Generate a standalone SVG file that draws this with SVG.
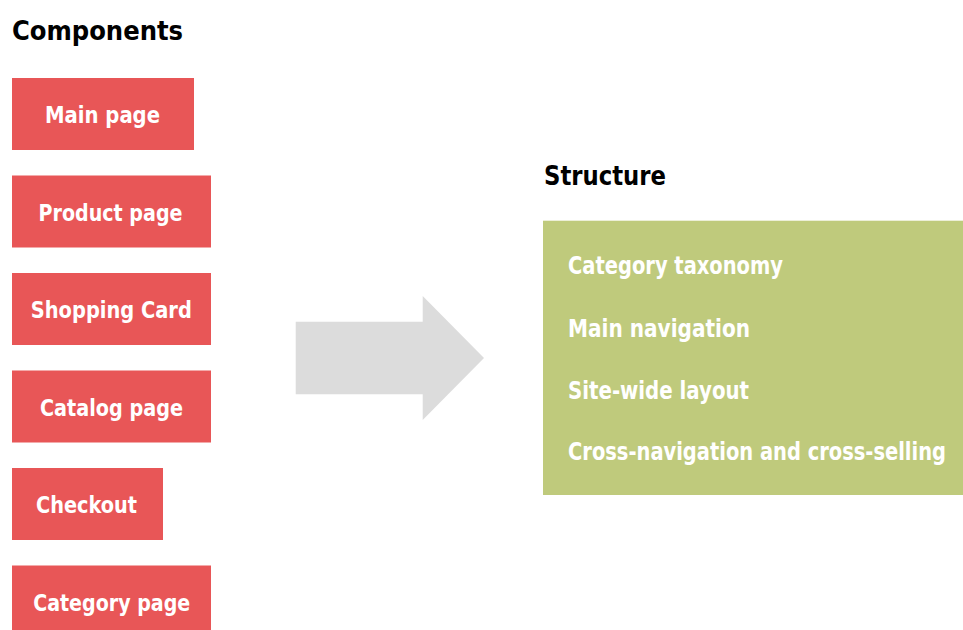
<svg xmlns="http://www.w3.org/2000/svg" width="963" height="630" viewBox="0 0 963 630">
<style>
text{font-family:"DejaVu Sans Condensed","Liberation Sans Narrow","DejaVu Sans",sans-serif;font-weight:bold;font-stretch:condensed}
.title{font-size:27px;fill:#000}
.comp{fill:#E85657}
.ct{font-size:23px;fill:#fff;text-anchor:middle}
.st{font-size:24px;fill:#fff}
</style>
<rect width="963" height="630" fill="#fff"/>
<text id="components-title" class="title" x="12" y="40" textLength="171" lengthAdjust="spacingAndGlyphs">Components</text>
<g id="main-page"><rect class="comp" x="12" y="78" width="182" height="72"/><text class="ct" x="102.5" y="123" textLength="115" lengthAdjust="spacingAndGlyphs">Main page</text></g>
<g id="product-page"><rect class="comp" x="12" y="175.5" width="199" height="72"/><text class="ct" x="110.5" y="220.5" textLength="144" lengthAdjust="spacingAndGlyphs">Product page</text></g>
<g id="shopping-card"><rect class="comp" x="12" y="273" width="199" height="72"/><text class="ct" x="111.3" y="318" textLength="161" lengthAdjust="spacingAndGlyphs">Shopping Card</text></g>
<g id="catalog-page"><rect class="comp" x="12" y="370.5" width="199" height="72"/><text class="ct" x="111.5" y="415.5" textLength="143" lengthAdjust="spacingAndGlyphs">Catalog page</text></g>
<g id="checkout"><rect class="comp" x="12" y="468" width="151" height="72"/><text class="ct" x="86.5" y="513" textLength="101" lengthAdjust="spacingAndGlyphs">Checkout</text></g>
<g id="category-page"><rect class="comp" x="12" y="565.5" width="199" height="72"/><text class="ct" x="111.7" y="610.5" textLength="157" lengthAdjust="spacingAndGlyphs">Category page</text></g>
<g id="connectors"><polygon fill="#DCDCDC" points="295.7,321.7 422.7,321.7 422.7,296 484,358 422.7,420 422.7,394.3 295.7,394.3"/></g>
<text id="structure-title" class="title" x="544" y="184.5" textLength="122" lengthAdjust="spacingAndGlyphs">Structure</text>
<g id="structure">
<rect x="543" y="220.7" width="420" height="274.3" fill="#BFCA7C"/>
<text class="st" x="568" y="274" textLength="215" lengthAdjust="spacingAndGlyphs">Category taxonomy</text>
<text class="st" x="568" y="336.5" textLength="182" lengthAdjust="spacingAndGlyphs">Main navigation</text>
<text class="st" x="568" y="398.5" textLength="181" lengthAdjust="spacingAndGlyphs">Site-wide layout</text>
<text class="st" transform="translate(568,460) scale(0.8,1)" x="0" y="0" textLength="472.5" lengthAdjust="spacingAndGlyphs">Cross-navigation and cross-selling</text>
</g>
</svg>
